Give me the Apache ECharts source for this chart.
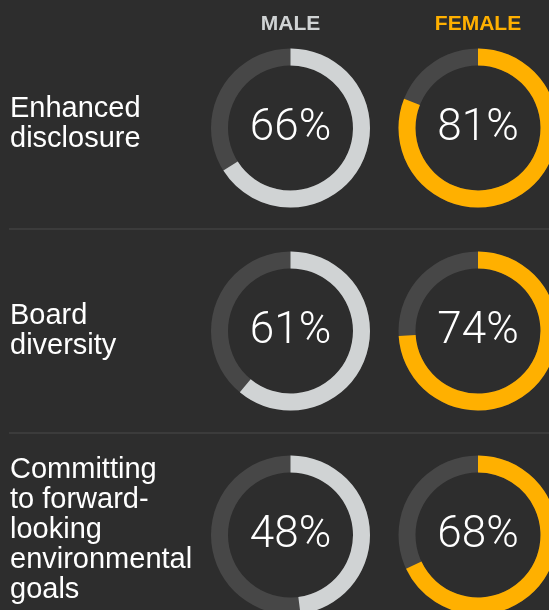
<!DOCTYPE html>
<html>
<head>
<meta charset="utf-8">
<script src="https://cdn.jsdelivr.net/npm/echarts@6/dist/echarts.min.js"></script>
<style>
  html, body { margin: 0; padding: 0; background: #2d2d2d; }
  #main { width: 549px; height: 610px; }
</style>
</head>
<body>
<div id="main"></div>
<script>
// data
const categories = ['Enhanced\ndisclosure', 'Board\ndiversity', 'Committing\nto forward-\nlooking\nenvironmental\ngoals']
const groups = ['MALE', 'FEMALE']
const maleValues = [66, 61, 48]
const femaleValues = [81, 74, 68]

// layout
const groupX = [290.5, 478]
const rowY = [128, 331, 535]
const labelY = [124, 331, 530]
const dividerY = [229, 433]
const groupColors = ['#d0d3d4', '#ffb000']
const trackColor = '#474747'

const chart = echarts.init(document.getElementById('main'))

const series = []
const valuesByGroup = [maleValues, femaleValues]
valuesByGroup.forEach((vals, g) => {
  vals.forEach((v, r) => {
    series.push({
      type: 'gauge',
      center: [groupX[g], rowY[r]],
      radius: 79.5,
      startAngle: 90,
      endAngle: -270,
      min: 0,
      max: 100,
      silent: true,
      pointer: { show: false },
      progress: {
        show: true,
        width: 17,
        roundCap: false,
        itemStyle: { color: groupColors[g] }
      },
      axisLine: { lineStyle: { width: 17, color: [[1, trackColor]] } },
      axisTick: { show: false },
      splitLine: { show: false },
      axisLabel: { show: false },
      title: { show: false },
      detail: {
        offsetCenter: [0, 1],
        formatter: '{value}%',
        color: '#ffffff',
        fontSize: 44,
        fontWeight: 300,
        fontFamily: 'Roboto, "Liberation Sans", sans-serif'
      },
      data: [{ value: v }]
    })
  })
})

const graphic = []
groups.forEach((name, g) => {
  graphic.push({
    type: 'text',
    x: groupX[g],
    y: 24,
    style: {
      text: name,
      fill: groupColors[g],
      fontSize: 21,
      fontWeight: 'bold',
      fontFamily: '"Liberation Sans", Arial, sans-serif',
      align: 'center',
      verticalAlign: 'middle'
    }
  })
})
categories.forEach((name, r) => {
  graphic.push({
    type: 'text',
    x: 10,
    y: labelY[r],
    style: {
      text: name,
      fill: '#ffffff',
      fontSize: 29,
      lineHeight: 30,
      fontFamily: '"Liberation Sans", Arial, sans-serif',
      align: 'left',
      verticalAlign: 'middle'
    }
  })
})
dividerY.forEach(y => {
  graphic.push({
    type: 'line',
    shape: { x1: 9, y1: y, x2: 549, y2: y },
    style: { stroke: '#4a4a4a', lineWidth: 1 }
  })
})

chart.setOption({
  backgroundColor: '#2d2d2d',
  animation: false,
  graphic: graphic,
  series: series
})
</script>
</body>
</html>
